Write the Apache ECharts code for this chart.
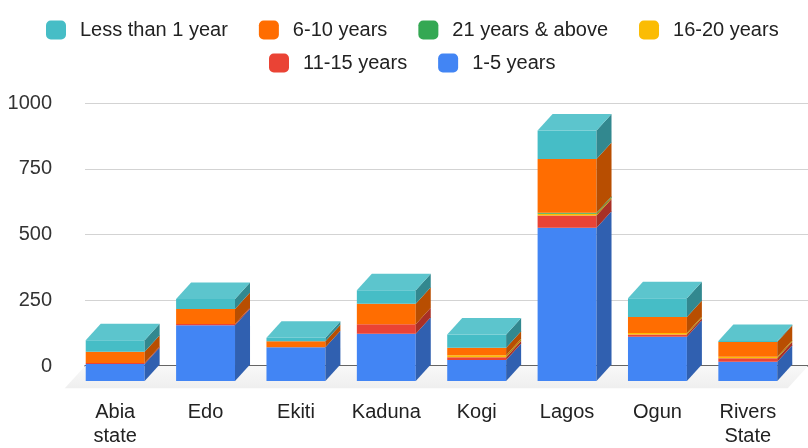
<!DOCTYPE html>
<html>
<head>
<meta charset="utf-8">
<script src="https://cdn.jsdelivr.net/npm/echarts@6/dist/echarts.min.js"></script>
<style>html,body{margin:0;padding:0;background:#fff}#c{width:808px;height:448px}</style>
</head>
<body>
<div id="c"></div>
<script>
const categories = ['Abia\nstate', 'Edo', 'Ekiti', 'Kaduna', 'Kogi', 'Lagos', 'Ogun', 'Rivers\nState'];
const yTicks = [0, 250, 500, 750, 1000];
// values
const years1to5   = [65, 213, 129, 181, 80, 587, 169, 74];
const years11to15 = [4, 5, 0, 36, 11, 47, 9, 13];
const years16to20 = [0, 0, 0, 0, 8, 6, 6, 6];
const years21plus = [0, 0, 0, 0, 0, 4, 0, 0];
const years6to10  = [43, 58, 23, 79, 28, 206, 61, 56];
const lessThan1   = [44, 38, 14, 51, 51, 109, 72, 4];

// stacking order bottom -> top
const stackSeries = [
  { name: '1-5 years', values: years1to5, color: '#4285F4' },
  { name: '11-15 years', values: years11to15, color: '#EA4335' },
  { name: '16-20 years', values: years16to20, color: '#FBBC04' },
  { name: '21 years & above', values: years21plus, color: '#34A853' },
  { name: '6-10 years', values: years6to10, color: '#FF6D01' },
  { name: 'Less than 1 year', values: lessThan1, color: '#46BDC6' }
];
const legendRow1 = ['Less than 1 year', '6-10 years', '21 years & above', '16-20 years'];
const legendRow2 = ['11-15 years', '1-5 years'];

const DX = 15, DY = 16.5, BAR_RATIO = 0.652;
const FONT = "'Liberation Sans', Arial, sans-serif";

function shade(hex, f) {
  const n = parseInt(hex.slice(1), 16);
  let r = (n >> 16) & 255, g = (n >> 8) & 255, b = n & 255;
  if (f < 1) { r = Math.round(r * f); g = Math.round(g * f); b = Math.round(b * f); }
  else { const t = f - 1; r = Math.round(r + (255 - r) * t); g = Math.round(g + (255 - g) * t); b = Math.round(b + (255 - b) * t); }
  return 'rgb(' + r + ',' + g + ',' + b + ')';
}

const bases = categories.map(() => 0);
const series = [];
// floor
series.push({
  type: 'custom', name: 'floor', xAxisIndex: 0, yAxisIndex: 0, silent: true, z: 1,
  data: [[0, 0]],
  renderItem: function (params, api) {
    const cs = params.coordSys;
    const yb = cs.y + cs.height;
    const ext = 1.35;
    return {
      type: 'polygon',
      shape: { points: [[cs.x, yb], [cs.x + cs.width, yb], [cs.x + cs.width - DX * ext, yb + DY * ext], [cs.x - DX * ext, yb + DY * ext]] },
      style: { fill: new echarts.graphic.LinearGradient(0, 0, 0, 1, [{ offset: 0, color: '#f8f8f8' }, { offset: 1, color: '#efefef' }]) }
    };
  }
});
stackSeries.forEach((s, k) => {
  const data = categories.map((c, i) => {
    const b = bases[i];
    const t = b + s.values[i];
    bases[i] = t;
    let isTop = s.values[i] > 0 ? 1 : 0;
    for (let j = k + 1; j < stackSeries.length; j++) if (stackSeries[j].values[i] > 0) isTop = 0;
    return [i, b, t, isTop];
  });
  const front = s.color, side = shade(s.color, 0.72), top = shade(s.color, 1.12);
  series.push({
    type: 'custom', name: s.name, xAxisIndex: 1, yAxisIndex: 1, z: 3,
    itemStyle: { color: s.color },
    encode: { x: 0, y: 2 },
    data: data,
    renderItem: function (params, api) {
      const i = api.value(0), b = api.value(1), t = api.value(2), isTop = api.value(3);
      if (t - b <= 0) return;
      const p0 = api.coord([i, b]), p1 = api.coord([i, t]);
      const bw = api.size([1, 0])[0] * BAR_RATIO;
      const x0 = p0[0] - bw / 2, x1 = p0[0] + bw / 2;
      const children = [
        { type: 'rect', shape: { x: x0, y: p1[1], width: bw, height: p0[1] - p1[1] }, style: { fill: front } },
        { type: 'polygon', shape: { points: [[x1, p1[1]], [x1 + DX, p1[1] - DY], [x1 + DX, p0[1] - DY], [x1, p0[1]]] }, style: { fill: side } }
      ];
      if (isTop) {
        children.push({ type: 'polygon', shape: { points: [[x0, p1[1]], [x0 + DX, p1[1] - DY], [x1 + DX, p1[1] - DY], [x1, p1[1]]] }, style: { fill: top } });
      }
      return { type: 'group', children: children };
    }
  });
});

const legendCommon = {
  icon: 'roundRect', itemWidth: 20, itemHeight: 19, itemGap: 31, orient: 'horizontal',
  textStyle: { fontSize: 20, color: '#222', fontFamily: FONT, padding: [0, 0, 0, 9] }
};

const chart = echarts.init(document.getElementById('c'), null, { renderer: 'canvas' });
chart.setOption({
  animation: false,
  backgroundColor: '#ffffff',
  textStyle: { fontFamily: FONT },
  legend: [
    Object.assign({}, legendCommon, { data: legendRow1, left: 41, top: 15 }),
    Object.assign({}, legendCommon, { data: legendRow2, left: 264, top: 48 })
  ],
  grid: [
    { left: 85, right: 0, top: 103.3, bottom: 82 },
    { left: 70, right: 15, top: 103.3 + DY, bottom: 82 - DY }
  ],
  xAxis: [
    { type: 'category', gridIndex: 0, data: categories, axisLabel: { show: false }, axisTick: { show: false },
      axisLine: { show: true, lineStyle: { color: '#333', width: 1.5 } } },
    { type: 'category', gridIndex: 1, data: categories, axisTick: { show: false }, axisLine: { show: false },
      axisLabel: { fontSize: 20, color: '#222', margin: 19, lineHeight: 24, fontFamily: FONT } }
  ],
  yAxis: [
    { type: 'value', gridIndex: 0, min: yTicks[0], max: yTicks[yTicks.length - 1], interval: yTicks[1] - yTicks[0],
      axisLabel: { fontSize: 20, color: '#333', margin: 33, fontFamily: FONT, formatter: function (v) { return String(v); } },
      axisLine: { show: false }, axisTick: { show: false },
      splitLine: { lineStyle: { color: '#d3d3d3', width: 1.2 } } },
    { type: 'value', gridIndex: 1, min: yTicks[0], max: yTicks[yTicks.length - 1], show: false, splitLine: { show: false } }
  ],
  series: series
});
</script>
</body>
</html>
